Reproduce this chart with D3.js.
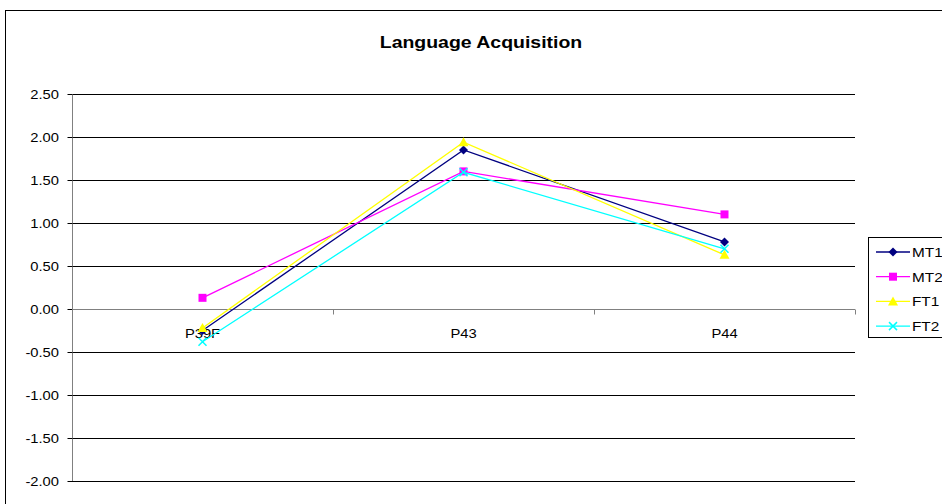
<!DOCTYPE html>
<html><head><meta charset="utf-8">
<script src="https://cdn.jsdelivr.net/npm/d3@7"></script>
<style>body{margin:0;background:#fff}svg{display:block;font-family:"Liberation Sans",Arial,sans-serif}</style>
</head><body><svg id="c" width="942" height="504"></svg>
<script>
const categories = ["P39F", "P43", "P44"];
const seriesNames = ["MT1", "MT2", "FT1", "FT2"];
const MT1 = [-0.25, 1.85, 0.78];
const MT2 = [0.13, 1.60, 1.10];
const FT1 = [-0.22, 1.94, 0.63];
const FT2 = [-0.38, 1.59, 0.70];
const yTicks = [2.5, 2.0, 1.5, 1.0, 0.5, 0.0, -0.5, -1.0, -1.5, -2.0];
const colors = ["#000080", "#FF00FF", "#FFFF00", "#00FFFF"];
const symbols = ["diamond", "square", "triangle", "x"];
const values = [MT1, MT2, FT1, FT2];

const SX = 1.18;
const svg = d3.select("#c");
const L = 72, R = 855, T = 94, B = 481;
const x = d3.scaleBand().domain(categories).range([L, R]);
const y = d3.scaleLinear().domain([-2, 2.5]).range([B, T]);

function stext(g, tx, ty, str, size, anchor, weight) {
  return g.append("text").attr("transform", `translate(${tx},${ty}) scale(${SX},1)`)
    .attr("text-anchor", anchor || "start").attr("font-size", size)
    .attr("font-weight", weight || "normal").attr("fill", "#000").text(str);
}

// outer chart border
svg.append("rect").attr("x", 5.5).attr("y", 10.5).attr("width", 960).attr("height", 520)
  .attr("fill", "none").attr("stroke", "#000").attr("stroke-width", 1);

stext(svg, 481, 48, "Language Acquisition", 16.5, "middle", "bold");

// gridlines
svg.append("g").selectAll("line").data(yTicks).join("line")
  .attr("x1", L).attr("x2", R)
  .attr("y1", d => Math.round(y(d)) + 0.5).attr("y2", d => Math.round(y(d)) + 0.5)
  .attr("stroke", "#000").attr("stroke-width", 1);

// y axis
const fmt = d => d3.format(".2f")(d).replace("\u2212", "-");
const ya = svg.append("g").attr("transform", `translate(${L + 0.5},0)`)
  .call(d3.axisLeft(y).tickValues(yTicks).tickFormat(fmt).tickSize(5).tickPadding(4));
ya.select(".domain").attr("stroke", "#808080").attr("d", `M0,${T}V${B}`);
ya.selectAll(".tick line").attr("stroke", "#000");
ya.selectAll(".tick").attr("transform", d => `translate(0,${Math.round(y(d)) + 0.5})`);
ya.selectAll(".tick text").attr("font-size", 12.5).attr("fill", "#000")
  .attr("font-family", "Liberation Sans, Arial, sans-serif")
  .attr("x", 0).attr("transform", `translate(-13.5,0) scale(${SX},1)`);

// x axis at zero
const y0 = Math.round(y(0)) + 0.5;
const xa = svg.append("g").attr("transform", `translate(0,${y0})`);
xa.append("line").attr("x1", L).attr("x2", R).attr("stroke", "#808080");
const bounds = [L, ...categories.map(c => x(c) + x.bandwidth())];
xa.selectAll("line.t").data(bounds).join("line").attr("class", "t")
  .attr("x1", d => Math.round(d) + 0.5).attr("x2", d => Math.round(d) + 0.5)
  .attr("y1", 0).attr("y2", 5).attr("stroke", "#808080");
categories.forEach(c => stext(xa, x(c) + x.bandwidth() / 2, 28, c, 12.5, "middle"));

// lines
const line = d3.line().x((d, i) => x(categories[i]) + x.bandwidth() / 2).y(d => y(d));
function marker(g, type, color, cx, cy) {
  if (type === "diamond") g.append("path").attr("d", `M${cx},${cy-4.5}L${cx+4.5},${cy}L${cx},${cy+4.5}L${cx-4.5},${cy}Z`).attr("fill", color);
  else if (type === "square") g.append("rect").attr("x", cx - 4).attr("y", cy - 4).attr("width", 8).attr("height", 8).attr("fill", color);
  else if (type === "triangle") g.append("path").attr("d", `M${cx},${cy-5}L${cx+5},${cy+4}L${cx-5},${cy+4}Z`).attr("fill", color);
  else g.append("path").attr("d", `M${cx-4},${cy-4}L${cx+4},${cy+4}M${cx+4},${cy-4}L${cx-4},${cy+4}`).attr("stroke", color).attr("stroke-width", 1.5);
}
values.forEach((vals, si) => {
  const g = svg.append("g");
  g.append("path").datum(vals).attr("d", line).attr("fill", "none").attr("stroke", colors[si]).attr("stroke-width", 1.3);
  vals.forEach((v, i) => marker(g, symbols[si], colors[si], x(categories[i]) + x.bandwidth() / 2, y(v)));
});

// legend
const lg = svg.append("g");
lg.append("rect").attr("x", 868.5).attr("y", 237.5).attr("width", 100).attr("height", 100)
  .attr("fill", "#fff").attr("stroke", "#000");
seriesNames.forEach((n, i) => {
  const ly = 252 + i * 24.7;
  lg.append("line").attr("x1", 876).attr("x2", 910).attr("y1", ly).attr("y2", ly).attr("stroke", colors[i]).attr("stroke-width", 1.3);
  marker(lg, symbols[i], colors[i], 893, ly);
  stext(lg, 912, ly + 5, n, 13);
});
</script></body></html>
